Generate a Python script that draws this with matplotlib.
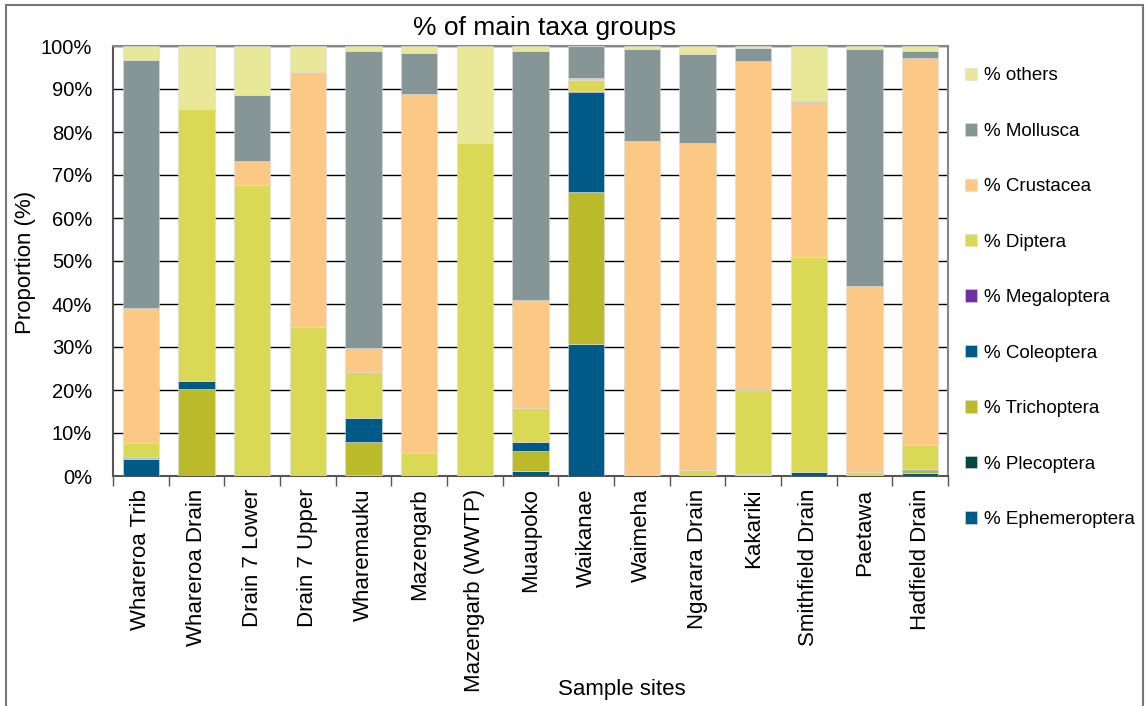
import matplotlib
matplotlib.use("Agg")
import matplotlib.pyplot as plt
from matplotlib.patches import Rectangle
import numpy as np

plt.rcParams['font.family'] = ['Liberation Sans Narrow', 'Liberation Sans', 'DejaVu Sans']

sites = ["Whareroa Trib", "Whareroa Drain", "Drain 7 Lower", "Drain 7 Upper", "Wharemauku",
         "Mazengarb", "Mazengarb (WWTP)", "Muaupoko", "Waikanae", "Waimeha",
         "Ngarara Drain", "Kakariki", "Smithfield Drain", "Paetawa", "Hadfield Drain"]

# % of each taxa group per site (bottom to top)
ephemeroptera = [3.9, 0.0, 0.0, 0.0, 0.2, 0.0, 0.0, 1.1, 30.8, 0.0, 0.0, 0.2, 0.0, 0.0, 0.7]
plecoptera    = [0.0, 0.0, 0.0, 0.0, 0.0, 0.0, 0.0, 0.0, 0.0, 0.0, 0.0, 0.0, 0.0, 0.0, 0.0]
trichoptera   = [0.4, 20.2, 0.0, 0.0, 7.7, 0.0, 0.0, 4.7, 35.2, 0.0, 0.0, 0.2, 0.0, 0.0, 0.8]
coleoptera    = [0.2, 1.8, 0.0, 0.0, 5.7, 0.0, 0.0, 2.0, 23.2, 0.0, 0.0, 0.0, 0.9, 0.0, 0.2]
megaloptera   = [0.0, 0.0, 0.0, 0.0, 0.0, 0.0, 0.0, 0.0, 0.4, 0.0, 0.0, 0.0, 0.0, 0.0, 0.0]
diptera       = [3.2, 63.3, 67.6, 34.7, 10.6, 5.3, 77.4, 8.0, 2.6, 0.2, 1.5, 19.6, 50.0, 0.9, 5.4]
crustacea     = [31.4, 0.0, 5.7, 59.2, 5.6, 83.6, 0.0, 25.1, 0.4, 77.6, 75.9, 76.4, 36.0, 43.4, 90.1]
mollusca      = [57.7, 0.0, 15.2, 0.0, 69.0, 9.5, 0.0, 57.9, 7.4, 21.4, 20.7, 3.1, 0.2, 54.9, 1.6]
others        = [3.2, 14.7, 11.5, 6.1, 1.2, 1.6, 22.6, 1.2, 0.0, 0.8, 1.9, 0.5, 12.9, 0.8, 1.2]

groups = ["% Ephemeroptera", "% Plecoptera", "% Trichoptera", "% Coleoptera", "% Megaloptera",
          "% Diptera", "% Crustacea", "% Mollusca", "% others"]
series = [ephemeroptera, plecoptera, trichoptera, coleoptera, megaloptera,
          diptera, crustacea, mollusca, others]
colors = ["#005a87", "#034840", "#baba2a", "#005a87", "#7030a0",
          "#d9d955", "#fcc886", "#869595", "#e8e898"]

W, H = 1148, 706
fig = plt.figure(figsize=(W / 100, H / 100), dpi=100)
ax = fig.add_axes([113 / W, 1 - 476 / H, (948 - 113) / W, (476 - 46) / H])

x = np.arange(len(sites))
bottom = np.zeros(len(sites))
handles = []
for vals, lab, col in zip(series, groups, colors):
    vals = np.array(vals)
    b = ax.bar(x, vals, 0.65, bottom=bottom, color=col, label=lab,
               edgecolor="#dddddd", linewidth=0.4, zorder=3)
    handles.append(b)
    bottom += vals

ax.set_xlim(-0.5, len(sites) - 0.5)
ax.set_ylim(0, 100)
ax.set_yticks(np.arange(0, 101, 10))
ax.set_yticklabels([f"{v}%" for v in range(0, 101, 10)], fontsize=14.5)
ax.yaxis.grid(True, color="black", linewidth=1.0, zorder=0)
ax.tick_params(axis="y", length=0, pad=15)

ax.set_xticks(x)
ax.set_xticklabels(sites, rotation=90, fontsize=16, va="top")
ax.set_xticks(np.arange(-0.5, len(sites), 1), minor=True)
ax.tick_params(axis="x", which="major", length=0, pad=9)
ax.tick_params(axis="x", which="minor", length=7, width=1, color="#555555")

for s in ax.spines.values():
    s.set_color("#888888")
    s.set_linewidth(1.5)
ax.spines["left"].set_color("#555555")
ax.spines["bottom"].set_color("#555555")

fig.text(26 / W, 1 - 262 / H, "Proportion (%)", fontsize=16, rotation=90,
         ha="center", va="center")
fig.text(545 / W, 1 - 28 / H, "% of main taxa groups", fontsize=19, ha="center", va="center")
fig.text(622 / W, 1 - 690 / H, "Sample sites", fontsize=16, ha="center", va="center")

leg = fig.legend(handles[::-1], groups[::-1], loc="upper left",
                 bbox_to_anchor=(957 / W, 1 - 60 / H), frameon=False, fontsize=13.5,
                 handlelength=0.65, handleheight=0.65, handletextpad=0.4,
                 labelspacing=2.05, borderaxespad=0)

# outer chart border
fig.add_artist(Rectangle((6 / W, -0.05), (1143 - 6) / W, 1 - 5 / H + 0.05,
                         transform=fig.transFigure, fill=False,
                         edgecolor="#777777", linewidth=1.5))

fig.savefig("out.png", dpi=100)
